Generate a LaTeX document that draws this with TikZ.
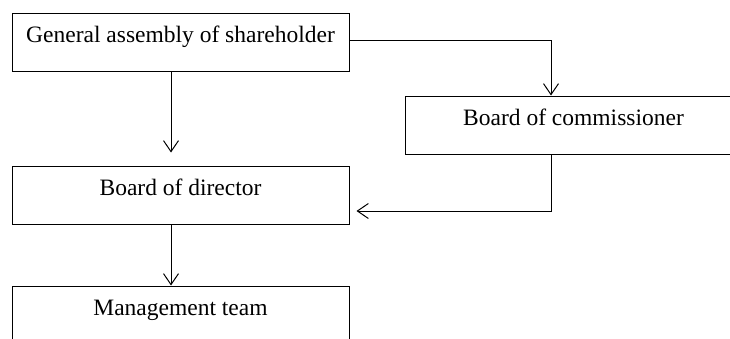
\documentclass[tikz,border=0pt]{standalone}
\usepackage{fontspec}
\setmainfont{Liberation Serif}
\usetikzlibrary{arrows.meta}

\begin{document}
\begin{tikzpicture}[x=1pt,y=1pt,line width=1pt,>={Straight Barb[length=11pt,width=15pt]}]
    \clip (0,0) rectangle (730,338);
    \useasboundingbox (0,0) rectangle (730,338);

        \begin{scope}[every node/.style={rectangle,draw,minimum width=337pt,inner sep=0pt,
                text height=29pt,text depth=29pt,font=\fontsize{23.5}{28}\selectfont}]
            \node (1) at (180.5,295) {General assembly of shareholder};
            \node (2) at (573.5,213) {Board of commissioner};
            \node (3) at (180.5,143) {Board of director};
            \node (4) at (180.5,23) {Management team};
        \end{scope}

        \begin{scope}[every path/.style={->}]
            \draw ([yshift=2pt]1.east) -| ([xshift=-22.5pt]2.north);
            \draw [shorten >=13pt] ([xshift=-9.5pt]1.south) -- ([xshift=-9.5pt]3.north);
            \draw [shorten >=7pt] ([xshift=-22.5pt]2.south) |- ([yshift=-16pt]3.east);
            \draw ([xshift=-9.5pt]3.south) -- ([xshift=-9.5pt]4.north);
        \end{scope}

    \end{tikzpicture}
\end{document}
